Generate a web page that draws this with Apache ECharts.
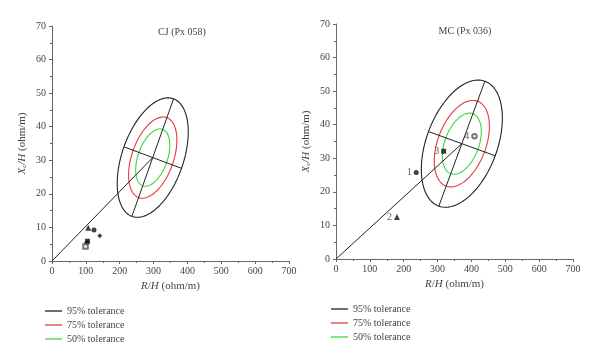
<!DOCTYPE html>
<html><head><meta charset="utf-8">
<script src="https://cdn.jsdelivr.net/npm/echarts@6/dist/echarts.min.js"></script>
<style>html,body{margin:0;padding:0;background:#fff}#c{width:600px;height:355px}</style>
</head><body><div id="c"></div>
<script>
// ---- data ----
const tolNames = ['95% tolerance', '75% tolerance', '50% tolerance'];
const tolScales = [1, 0.68, 0.48];
const tolColors = ['#222222', '#e8383c', '#3fd63f'];

// CJ (Px 058)
const cjCenter = [297.5, 30.8];
const cjMajorEnds = [[236, 13.3], [359, 48.3]];
const cjMinorEnds = [[212.5, 34.0], [382.5, 27.6]];
const cjPoints = [
  {v: [124, 9.2], s: 'circle'},
  {v: [107, 9.9], s: 'triangle'},
  {v: [141, 7.5], s: 'diamond'},
  {v: [105, 5.9], s: 'rect'},
  {v: [103, 5.4], s: 'circle'},
  {v: [99, 4.3], s: 'emptyRect'}
];

// MC (Px 036)
const mcCenter = [371.7, 34.35];
const mcMajorEnds = [[303.7, 15.75], [439.7, 52.95]];
const mcMinorEnds = [[273.2, 37.95], [470.2, 30.75]];
const mcPoints = [
  {v: [237, 25.8], s: 'circle', label: '1'},
  {v: [180, 12.5], s: 'triangle', label: '2'},
  {v: [318, 32.1], s: 'rect', label: '3'},
  {v: [409, 36.6], s: 'emptyCircle', label: '4'}
];

const chartTitles = ['CJ (Px 058)', 'MC (Px 036)'];

// ---- build option ----
const serif = 'Liberation Serif';
const axisCol = '#666';
const grids = [
  {left: 52, top: 26, width: 237, height: 235},
  {left: 336, top: 24, width: 237, height: 235}
];

function xAxis(i) {
  return {
    gridIndex: i, type: 'value', min: 0, max: 700, interval: 100,
    name: '{i|R}/{i|H} (ohm/m)', nameLocation: 'middle', nameGap: 19,
    nameTextStyle: {fontFamily: serif, fontSize: 11, color: '#444',
      rich: {i: {fontStyle: 'italic', fontFamily: serif, fontSize: 11, color: '#444'}}},
    axisLine: {lineStyle: {color: axisCol, width: 1}},
    axisTick: {length: 3, lineStyle: {color: axisCol}},
    minorTick: {show: true, splitNumber: 2, length: 2, lineStyle: {color: axisCol}},
    axisLabel: {fontFamily: serif, fontSize: 10, color: '#444', margin: 5},
    splitLine: {show: false}
  };
}
function yAxis(i) {
  return {
    gridIndex: i, type: 'value', min: 0, max: 70, interval: 10,
    name: '{i|X}{s|c}{i|/H} (ohm/m)', nameLocation: 'middle', nameGap: 24,
    nameTextStyle: {fontFamily: serif, fontSize: 11, color: '#444',
      rich: {
        i: {fontStyle: 'italic', fontFamily: serif, fontSize: 11, color: '#444'},
        s: {fontStyle: 'italic', fontFamily: serif, fontSize: 7, color: '#444', padding: [5, 0, 0, 0]}
      }},
    axisLine: {lineStyle: {color: axisCol, width: 1}},
    axisTick: {length: 3, lineStyle: {color: axisCol}},
    minorTick: {show: true, splitNumber: 2, length: 2, lineStyle: {color: axisCol}},
    axisLabel: {fontFamily: serif, fontSize: 10, color: '#444', margin: 6},
    splitLine: {show: false}
  };
}

function lineSeries(i, pts) {
  return {
    type: 'line', xAxisIndex: i, yAxisIndex: i, data: pts, symbol: 'none',
    silent: true, animation: false,
    lineStyle: {color: '#222', width: 1}
  };
}

function ellipseSeries(i, center, majorEnds, minorEnds, k) {
  const u = [(majorEnds[1][0] - majorEnds[0][0]) / 2, (majorEnds[1][1] - majorEnds[0][1]) / 2];
  const v = [(minorEnds[1][0] - minorEnds[0][0]) / 2, (minorEnds[1][1] - minorEnds[0][1]) / 2];
  const sc = tolScales[k];
  return {
    type: 'custom', name: tolNames[k], xAxisIndex: i, yAxisIndex: i,
    coordinateSystem: 'cartesian2d', animation: false, silent: true,
    itemStyle: {color: tolColors[k]},
    data: [center],
    renderItem: function (params, api) {
      const cx = api.value(0), cy = api.value(1);
      const pts = [];
      const N = 120;
      for (let j = 0; j <= N; j++) {
        const t = 2 * Math.PI * j / N;
        const c = Math.cos(t), s = Math.sin(t);
        pts.push(api.coord([cx + sc * (u[0] * c + v[0] * s), cy + sc * (u[1] * c + v[1] * s)]));
      }
      return {type: 'polyline', shape: {points: pts},
        style: {stroke: tolColors[k], fill: null, lineWidth: 1.1}};
    }
  };
}

function pointSeries(i, points, withLabels) {
  return points.map(p => {
    const empty = p.s.startsWith('empty');
    return {
      type: 'scatter', xAxisIndex: i, yAxisIndex: i, animation: false, silent: true,
      symbol: p.s, symbolSize: p.s === 'triangle' ? 6 : (empty ? 4.5 : 5),
      itemStyle: empty ? {color: '#555', borderColor: '#555', borderWidth: 1.2} : {color: '#111'},
      label: withLabels ? {show: true, position: 'left', distance: 2, formatter: p.label,
        fontFamily: serif, fontSize: 10, color: '#333'} : {show: false},
      data: [p.v]
    };
  });
}

const series = [];
[[cjCenter, cjMajorEnds, cjMinorEnds, cjPoints, false], [mcCenter, mcMajorEnds, mcMinorEnds, mcPoints, true]]
  .forEach((d, i) => {
    const [center, maj, min, pts, lab] = d;
    series.push(lineSeries(i, [[0, 0], center]));
    series.push(lineSeries(i, maj));
    series.push(lineSeries(i, min));
    for (let k = 0; k < 3; k++) series.push(ellipseSeries(i, center, maj, min, k));
    pointSeries(i, pts, lab).forEach(s => series.push(s));
  });

const option = {
  animation: false,
  grid: grids,
  title: [
    {text: chartTitles[0], left: 182, top: 27, textAlign: 'center', padding: 0,
      textStyle: {fontFamily: serif, fontSize: 10, fontWeight: 'normal', color: '#444'}},
    {text: chartTitles[1], left: 465, top: 26, textAlign: 'center', padding: 0,
      textStyle: {fontFamily: serif, fontSize: 10, fontWeight: 'normal', color: '#444'}}
  ],
  legend: [
    {data: tolNames, orient: 'vertical', left: 45, top: 305, padding: 0, itemGap: 2,
      icon: 'rect', itemWidth: 17, itemHeight: 1.3, selectedMode: false,
      textStyle: {fontFamily: serif, fontSize: 10, color: '#444', lineHeight: 12}},
    {data: tolNames, orient: 'vertical', left: 331, top: 303, padding: 0, itemGap: 2,
      icon: 'rect', itemWidth: 17, itemHeight: 1.3, selectedMode: false,
      textStyle: {fontFamily: serif, fontSize: 10, color: '#444', lineHeight: 12}}
  ],
  xAxis: [xAxis(0), xAxis(1)],
  yAxis: [yAxis(0), yAxis(1)],
  series: series
};

const chart = echarts.init(document.getElementById('c'), null, {renderer: 'canvas'});
chart.setOption(option);
</script>
</body></html>
